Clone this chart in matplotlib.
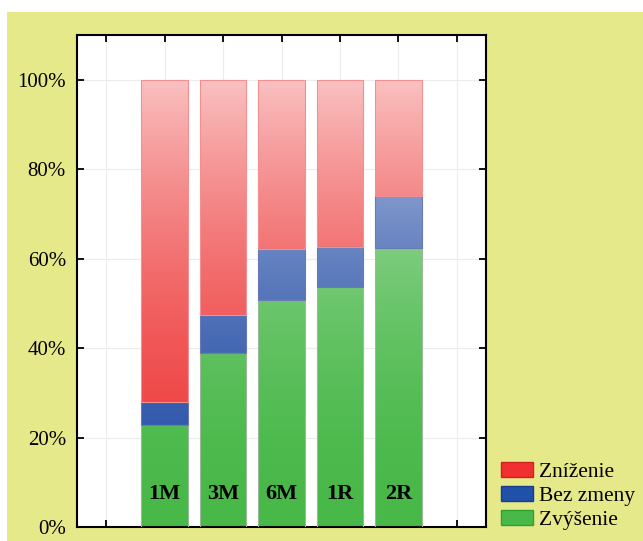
import numpy as np
import matplotlib
matplotlib.use("Agg")
import matplotlib.pyplot as plt
from matplotlib.patches import Patch, Rectangle
from matplotlib.colors import to_rgb

# data (percent of respondents)
periods = ["1M", "3M", "6M", "1R", "2R"]
zvysenie = [22.9, 38.9, 50.8, 53.7, 62.4]
bez_zmeny = [5.0, 8.6, 11.3, 9.0, 11.6]
znizenie = [100 - g - b for g, b in zip(zvysenie, bez_zmeny)]

series_names = ["Zvýšenie", "Bez zmeny", "Zníženie"]
series_colors = ["#48b848", "#2a52a8", "#ee3c3c"]
edge_colors = ["#9ab89a", "#6a78b8", "#f09090"]

plt.rcParams["font.family"] = ["Liberation Serif", "DejaVu Serif"]

fig = plt.figure(figsize=(6.43, 5.41), dpi=100)
fig.patch.set_facecolor("white")
fig.patches.append(Rectangle((7 / 643, 0), 1, 1 - 12 / 541, transform=fig.transFigure,
                             facecolor="#e6e98a", edgecolor="none", zorder=-10))

ax = fig.add_axes([77 / 643, 13.7 / 541, (486 - 77) / 643, (527.3 - 35) / 541])
ax.set_facecolor("white")

x = np.arange(1, len(periods) + 1)
width = 0.8


def gradient_img(color):
    # vertical fade to white, stronger towards the top
    yy = np.linspace(0, 1, 256)[:, None]
    fade = 0.68 * yy ** 1.8
    base = np.array(to_rgb(color))
    rgb = base[None, None, :] * (1 - fade[..., None]) + fade[..., None]
    return np.repeat(rgb, 2, axis=1)


bottom = np.zeros(len(periods))
for vals, color, ec in zip([zvysenie, bez_zmeny, znizenie], series_colors, edge_colors):
    img = gradient_img(color)
    bars = ax.bar(x, vals, width, bottom=bottom, facecolor="none", edgecolor=ec,
                  linewidth=0.8, zorder=3)
    for bar in bars:
        im = ax.imshow(img, extent=(bar.get_x(), bar.get_x() + width, 0, 100),
                       origin="lower", aspect="auto", zorder=2, interpolation="bilinear")
        im.set_clip_path(bar)
    bottom += np.array(vals)

for xi, lab in zip(x, periods):
    ax.text(xi, 7.5, lab, ha="center", va="center", fontsize=16, fontweight="bold", zorder=5)

ax.set_xlim(-0.5, 6.5)
ax.set_ylim(0, 110)
ax.set_xticks(np.arange(0, 7))
ax.set_xticklabels([])
ax.set_yticks([0, 20, 40, 60, 80, 100])
ax.set_yticklabels(["0%", "20%", "40%", "60%", "80%", "100%"], fontsize=15)
ax.tick_params(direction="in", length=5, width=1.3, top=True, right=True, pad=8)
ax.grid(True, color="#ececec", linewidth=0.8, zorder=0)
ax.set_axisbelow(True)
for sp in ax.spines.values():
    sp.set_linewidth(1.5)

handles = [Patch(facecolor=c, edgecolor=e, label=n)
           for n, c, e in zip(series_names, series_colors, ["#2f9a2f", "#1a3e90", "#c82020"])]
handles = handles[::-1]
handles = [Patch(facecolor="#f03030", edgecolor="#d02020", label="Zníženie"),
           Patch(facecolor="#2050a8", edgecolor="#183e90", label="Bez zmeny"),
           Patch(facecolor="#48b848", edgecolor="#30a030", label="Zvýšenie")]
fig.legend(handles=handles, loc="lower left", bbox_to_anchor=(492 / 643, 2 / 541),
           frameon=False, fontsize=15.5, handlelength=1.5, handleheight=0.7,
           labelspacing=0.2, handletextpad=0.3, borderaxespad=0)

fig.savefig("out.png", dpi=100)
